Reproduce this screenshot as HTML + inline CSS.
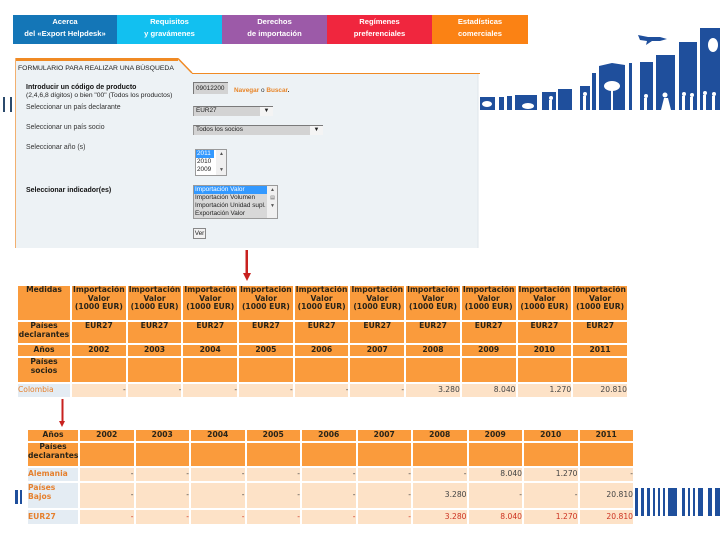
<!DOCTYPE html>
<html><head><meta charset="utf-8">
<style>
html,body{margin:0;padding:0;background:#fff;}
body{width:720px;height:540px;position:relative;overflow:hidden;font-family:"Liberation Sans","DejaVu Sans",sans-serif;}
.nav{position:absolute;top:15px;height:29px;color:#fff;font-weight:bold;font-size:7.6px;line-height:12px;text-align:center;padding-top:1px;box-sizing:border-box;white-space:nowrap;}
.t{position:absolute;font-size:6.9px;line-height:8px;color:#333;white-space:nowrap;}
.b{font-weight:bold;color:#111;}
table.tb{position:absolute;border-collapse:separate;border-spacing:2px;table-layout:fixed;font-family:"DejaVu Sans","Liberation Sans",sans-serif;font-size:7.6px;line-height:8.6px;background:#fff;}
table.tb td{padding:0;overflow:hidden;white-space:nowrap;}
td.h{background:#fa9b3c;color:#2a2418;font-weight:bold;text-align:center;vertical-align:top;padding-top:2px;}
td.hm{background:#fa9b3c;color:#2a2418;font-weight:bold;text-align:center;vertical-align:middle;}
td.l{background:#e4ecf3;color:#e5802e;font-weight:bold;text-align:left;vertical-align:middle;padding-left:1px;}
td.d{background:#fde2c7;color:#444;text-align:right;vertical-align:middle;padding-right:2px;}
td.r{color:#cc3322;}
.sel{position:absolute;background:#d3d3d3;border-top:1px solid #7a7a7a;border-left:1px solid #9a9a9a;font-size:6.4px;line-height:8px;color:#222;box-sizing:border-box;padding-left:2px;}
.arr{position:absolute;top:0;right:0;width:13px;height:100%;background:#f4f4f4;font-size:6px;text-align:center;line-height:9px;color:#222;}
.lb{position:absolute;background:#fff;border:1px solid #9a9a9a;box-sizing:border-box;font-size:6.4px;line-height:8px;color:#222;overflow:hidden;}
.lb div{padding-left:1px;}
.sc{position:absolute;top:0;right:0;width:9px;height:100%;background:#f0f0f0;font-size:5px;line-height:8px;text-align:center;color:#555;}
</style></head>
<body>
<svg width="720" height="540" style="position:absolute;left:0;top:0" xmlns="http://www.w3.org/2000/svg">
  <polygon points="15,58 178,58 192,73 478,73 478,248 15,248" fill="#edf2f5"/>
  <line x1="15" y1="59.5" x2="178" y2="59.5" stroke="#f08a24" stroke-width="3"/>
  <line x1="178" y1="58.5" x2="192" y2="73" stroke="#f08a24" stroke-width="1.5"/>
  <line x1="192" y1="73.5" x2="480" y2="73.5" stroke="#f08a24" stroke-width="1"/>
  <line x1="15.5" y1="58" x2="15.5" y2="248" stroke="#f2b070" stroke-width="1"/>
  <line x1="478" y1="74" x2="478" y2="248" stroke="#dfe6ea" stroke-width="1"/>
  <rect x="3" y="97" width="2" height="15" fill="#2b4a6c"/>
  <rect x="10" y="97" width="2" height="15" fill="#2b4a6c"/>
  <g fill="#1f4f9c">
    <rect x="480" y="97" width="15" height="13"/>
    <rect x="499" y="97" width="5" height="13"/>
    <rect x="507" y="96" width="5" height="14"/>
    <rect x="515" y="95" width="22" height="15"/>
    <rect x="542" y="92" width="14" height="18"/>
    <rect x="558" y="89" width="15" height="21"/>
    <rect x="580" y="86" width="10" height="24"/>
    <rect x="592" y="73" width="4" height="37"/>
    <polygon points="599,66 612,63 625,65 625,110 599,110"/>
    <rect x="629" y="63" width="3" height="47"/>
    <rect x="640" y="62" width="13" height="48"/>
    <rect x="656" y="55" width="19" height="55"/>
    <rect x="679" y="42" width="18" height="68"/>
    <rect x="700" y="28" width="20" height="82"/>
    <polygon points="638,35 648,37 660,37 667,39 660,41 652,41 646,45 647,41 640,40"/>
  </g>
  <g fill="#ffffff">
    <ellipse cx="612" cy="86" rx="8" ry="5"/>
    <rect x="611" y="89" width="2" height="21"/>
    <ellipse cx="487" cy="104" rx="5" ry="3"/>
    <ellipse cx="528" cy="106" rx="6" ry="3"/>
    <circle cx="551" cy="98" r="2"/><rect x="549" y="100" width="3" height="10"/>
    <circle cx="585" cy="94" r="2"/><rect x="583" y="96" width="3" height="14"/>
    <circle cx="646" cy="96" r="2"/><rect x="644" y="98" width="3" height="12"/>
    <circle cx="665" cy="95" r="2.5"/><polygon points="661,110 664,98 668,98 671,110"/>
    <circle cx="684" cy="94" r="2"/><rect x="682" y="96" width="3" height="14"/>
    <circle cx="692" cy="95" r="2"/><rect x="690" y="97" width="3" height="13"/>
    <circle cx="705" cy="93" r="2"/><rect x="703" y="95" width="3" height="15"/>
    <circle cx="714" cy="94" r="2"/><rect x="712" y="96" width="3" height="14"/>
    <ellipse cx="713" cy="45" rx="5" ry="7"/>
    <rect x="572" y="89" width="1" height="21"/>
  </g>
  <rect x="245.5" y="250" width="2.5" height="24" fill="#c8211f"/>
  <polygon points="243,273 251,273 247,281" fill="#c8211f"/>
  <rect x="61.5" y="398" width="2" height="24" fill="#c8211f"/>
  <polygon points="59,421 65,421 62,427" fill="#c8211f"/>
  <rect x="15" y="490" width="3" height="14" fill="#1f4f9c"/>
  <rect x="20" y="490" width="2" height="14" fill="#1f4f9c"/>
  <g fill="#1f4f9c">
    <rect x="635" y="488" width="3" height="28"/>
    <rect x="641" y="488" width="3" height="28"/>
    <rect x="647" y="488" width="3" height="28"/>
    <rect x="653" y="488" width="2" height="28"/>
    <rect x="658" y="488" width="2" height="28"/>
    <rect x="663" y="488" width="2" height="28"/>
    <rect x="668" y="488" width="9" height="28"/>
    <rect x="682" y="488" width="3" height="28"/>
    <rect x="688" y="488" width="2" height="28"/>
    <rect x="693" y="488" width="2" height="28"/>
    <rect x="698" y="488" width="5" height="28"/>
    <rect x="708" y="488" width="4" height="28"/>
    <rect x="715" y="488" width="5" height="28"/>
  </g>
</svg>

<div class="nav" style="left:13px;width:104px;background:#1476b7;">Acerca<br>del «Export Helpdesk»</div>
<div class="nav" style="left:117px;width:105px;background:#12c0f0;">Requisitos<br>y gravámenes</div>
<div class="nav" style="left:222px;width:105px;background:#9c5aa8;">Derechos<br>de importación</div>
<div class="nav" style="left:327px;width:105px;background:#f0263e;">Regímenes<br>preferenciales</div>
<div class="nav" style="left:432px;width:96px;background:#fb8214;">Estadísticas<br>comerciales</div>

<div class="t" style="left:18px;top:65px;font-size:6.8px;color:#222;">FORMULARIO PARA REALIZAR UNA BÚSQUEDA</div>
<div class="t b" style="left:26px;top:84px;font-size:7px;">Introducir un código de producto</div>
<div class="t" style="left:26px;top:92px;color:#222;font-size:6.7px;">(2,4,6,8 dígitos) o bien "00" (Todos los productos)</div>
<div class="t" style="left:26px;top:104px;">Seleccionar un país declarante</div>
<div class="t" style="left:26px;top:124px;">Seleccionar un país socio</div>
<div class="t" style="left:26px;top:144px;">Seleccionar año (s)</div>
<div class="t b" style="left:26px;top:187px;font-size:7px;">Seleccionar indicador(es)</div>

<div class="sel" style="left:193px;top:82px;width:35px;height:12px;line-height:11px;border-left:1px solid #777;">09012200</div>
<div class="t" style="left:234px;top:87px;font-size:6.4px;color:#e8862a;font-weight:bold;">Navegar <span style="color:#333;font-weight:normal">o</span> Buscar<span style="color:#333">.</span></div>

<div class="sel" style="left:193px;top:106px;width:80px;height:10px;">EUR27<div class="arr">▼</div></div>
<div class="sel" style="left:193px;top:125px;width:130px;height:10px;">Todos los socios<div class="arr">▼</div></div>

<div class="lb" style="left:195px;top:149px;width:32px;height:27px;">
  <div style="background:#3399ff;color:#fff;width:17px;">2011</div>
  <div>2010</div>
  <div>2009</div>
  <div class="sc">▲<br><br>▼</div>
</div>

<div class="lb" style="left:193px;top:185px;width:85px;height:34px;">
  <div style="background:#3399ff;color:#fff;width:72px;">Importación Valor</div>
  <div style="background:#d8d8d8;width:72px;">Importación Volumen</div>
  <div style="background:#d8d8d8;width:72px;">Importación Unidad supl.</div>
  <div style="background:#d8d8d8;width:72px;">Exportación Valor</div>
  <div class="sc">▲<br>▤<br>▼</div>
</div>

<div style="position:absolute;left:193px;top:228px;width:13px;height:11px;background:#f2f2f2;border:1px solid #888;box-sizing:border-box;font-size:6.4px;line-height:9px;text-align:center;color:#222;">Ver</div>

<table class="tb" style="left:16px;top:284px;width:613px;">
<colgroup><col style="width:52px"><col span="10" style="width:53.7px"></colgroup>
<tr style="height:34px"><td class="h">Medidas</td>
<td class="h">Importación<br>Valor<br>(1000 EUR)</td><td class="h">Importación<br>Valor<br>(1000 EUR)</td><td class="h">Importación<br>Valor<br>(1000 EUR)</td><td class="h">Importación<br>Valor<br>(1000 EUR)</td><td class="h">Importación<br>Valor<br>(1000 EUR)</td><td class="h">Importación<br>Valor<br>(1000 EUR)</td><td class="h">Importación<br>Valor<br>(1000 EUR)</td><td class="h">Importación<br>Valor<br>(1000 EUR)</td><td class="h">Importación<br>Valor<br>(1000 EUR)</td><td class="h">Importación<br>Valor<br>(1000 EUR)</td></tr>
<tr style="height:21px"><td class="h">Países<br>declarantes</td><td class="h">EUR27</td><td class="h">EUR27</td><td class="h">EUR27</td><td class="h">EUR27</td><td class="h">EUR27</td><td class="h">EUR27</td><td class="h">EUR27</td><td class="h">EUR27</td><td class="h">EUR27</td><td class="h">EUR27</td></tr>
<tr style="height:11px"><td class="hm">Años</td><td class="hm">2002</td><td class="hm">2003</td><td class="hm">2004</td><td class="hm">2005</td><td class="hm">2006</td><td class="hm">2007</td><td class="hm">2008</td><td class="hm">2009</td><td class="hm">2010</td><td class="hm">2011</td></tr>
<tr style="height:24px"><td class="h">Países<br>socios</td><td class="h"></td><td class="h"></td><td class="h"></td><td class="h"></td><td class="h"></td><td class="h"></td><td class="h"></td><td class="h"></td><td class="h"></td><td class="h"></td></tr>
<tr style="height:13px"><td class="l" style="font-weight:normal">Colombia</td><td class="d">-</td><td class="d">-</td><td class="d">-</td><td class="d">-</td><td class="d">-</td><td class="d">-</td><td class="d">3.280</td><td class="d">8.040</td><td class="d">1.270</td><td class="d">20.810</td></tr>
</table>

<table class="tb" style="left:26px;top:428px;width:609px;">
<colgroup><col style="width:50px"><col span="10" style="width:53.5px"></colgroup>
<tr style="height:11px"><td class="hm">Años</td><td class="hm">2002</td><td class="hm">2003</td><td class="hm">2004</td><td class="hm">2005</td><td class="hm">2006</td><td class="hm">2007</td><td class="hm">2008</td><td class="hm">2009</td><td class="hm">2010</td><td class="hm">2011</td></tr>
<tr style="height:23px"><td class="h">Países<br>declarantes</td><td class="h"></td><td class="h"></td><td class="h"></td><td class="h"></td><td class="h"></td><td class="h"></td><td class="h"></td><td class="h"></td><td class="h"></td><td class="h"></td></tr>
<tr style="height:13px"><td class="l">Alemania</td><td class="d">-</td><td class="d">-</td><td class="d">-</td><td class="d">-</td><td class="d">-</td><td class="d">-</td><td class="d">-</td><td class="d">8.040</td><td class="d">1.270</td><td class="d">-</td></tr>
<tr style="height:25px"><td class="l" style="vertical-align:top;padding-top:1px">Países<br>Bajos</td><td class="d">-</td><td class="d">-</td><td class="d">-</td><td class="d">-</td><td class="d">-</td><td class="d">-</td><td class="d">3.280</td><td class="d">-</td><td class="d">-</td><td class="d">20.810</td></tr>
<tr style="height:14px"><td class="l">EUR27</td><td class="d r">-</td><td class="d r">-</td><td class="d r">-</td><td class="d r">-</td><td class="d r">-</td><td class="d r">-</td><td class="d r">3.280</td><td class="d r">8.040</td><td class="d r">1.270</td><td class="d r">20.810</td></tr>
</table>
</body></html>
